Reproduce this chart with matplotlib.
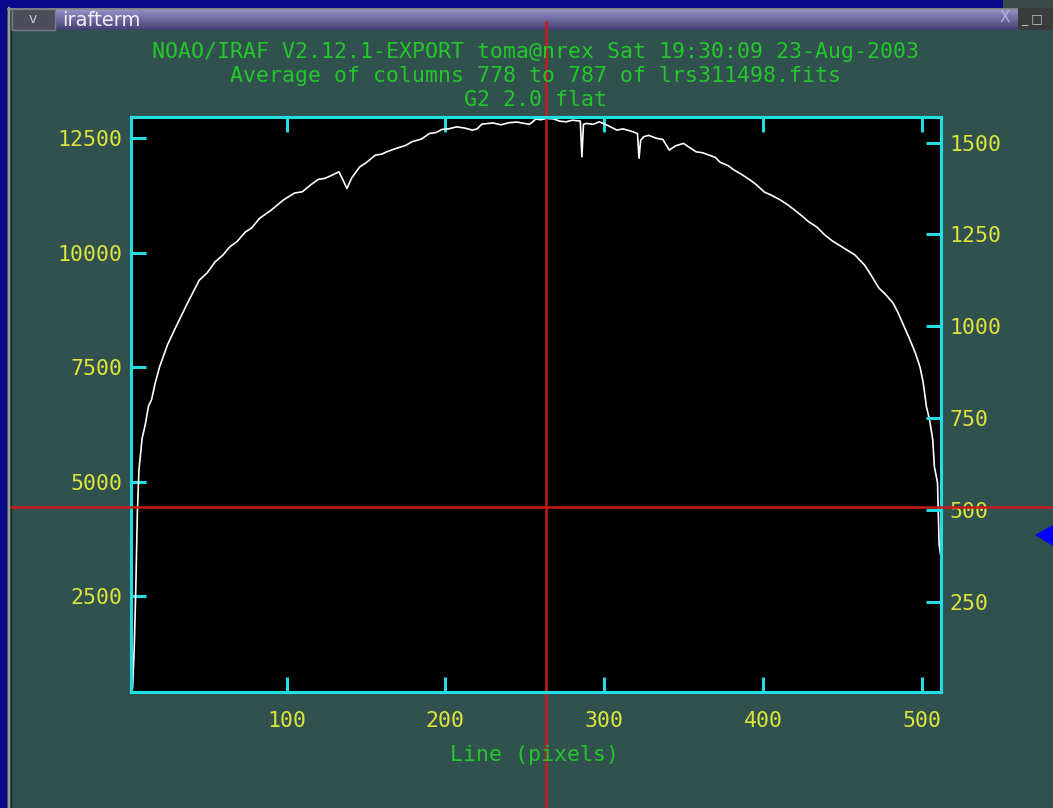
import matplotlib
matplotlib.use("Agg")
import matplotlib.pyplot as plt
import numpy as np
from matplotlib.patches import Rectangle, Polygon
from matplotlib.lines import Line2D

# ---------------- data ----------------
line_px = [2, 3, 4, 5, 6, 7, 8, 9, 11, 13, 15, 17, 20, 25, 30, 38, 45, 50, 55, 60,
           64, 69, 74, 78, 83, 90, 98, 105, 110, 115, 120, 124, 128, 133, 136, 138,
           141, 146, 150, 156, 160, 163, 169, 175, 179, 185, 190, 194, 198, 202, 207,
           212, 217, 220, 223, 230, 235, 240, 245, 249, 253, 257, 260, 264, 268, 272,
           276, 280, 284, 285, 286, 287, 289, 293, 297, 302, 308, 312, 318, 321, 322,
           323, 325, 328, 333, 337, 341, 345, 350, 354, 358, 362, 366, 370, 373, 378,
           382, 386, 392, 396, 401, 405, 411, 415, 420, 425, 429, 434, 439, 444, 448,
           452, 458, 461, 464, 468, 473, 477, 482, 485, 489, 492, 496, 499, 501, 503,
           505, 507, 508, 510, 511, 512]
counts = [440, 500, 1340, 2650, 4300, 5260, 5600, 5950, 6250, 6650, 6800, 7120, 7510,
          7990, 8360, 8930, 9400, 9560, 9800, 9950, 10120, 10250, 10450, 10540, 10750,
          10920, 11150, 11300, 11330, 11475, 11600, 11620, 11680, 11765, 11550, 11400,
          11630, 11870, 11960, 12130, 12150, 12200, 12275, 12340, 12420, 12480, 12600,
          12620, 12690, 12700, 12745, 12720, 12675, 12700, 12805, 12830, 12790, 12835,
          12850, 12825, 12800, 12915, 12900, 12930, 12920, 12870, 12855, 12890, 12875,
          12870, 12090, 12800, 12820, 12800, 12855, 12780, 12675, 12700, 12640, 12600,
          12060, 12450, 12530, 12560, 12495, 12470, 12240, 12330, 12385, 12290, 12200,
          12180, 12130, 12080, 11975, 11900, 11800, 11720, 11585, 11480, 11320, 11260,
          11150, 11060, 10930, 10790, 10670, 10560, 10385, 10250, 10165, 10080, 9950,
          9840, 9730, 9520, 9230, 9100, 8900, 8700, 8385, 8150, 7815, 7500, 7160, 6640,
          6350, 5915, 5335, 4980, 3630, 3400]

x_ticks = [100, 200, 300, 400, 500]
y_ticks_left = [2500, 5000, 7500, 10000, 12500]
y_ticks_right = [250, 500, 750, 1000, 1250, 1500]
x_limits = (2, 512)
y_limits_left = (415, 12960)
y_limits_right = (4, 1570)
title_lines = ["NOAO/IRAF V2.12.1-EXPORT toma@nrex Sat 19:30:09 23-Aug-2003",
               "Average of columns 778 to 787 of lrs311498.fits",
               "G2 2.0 flat"]
x_label = "Line (pixels)"
window_title = "irafterm"
cursor_x, cursor_y = 263.4, 4456

# ---------------- style ----------------
W, H = 1053, 808
BG = "#31514f"
CYAN = "#24dde2"
YELLOW = "#dde43c"
GREEN = "#22c82a"
RED = "#c81a1a"
MONO = "DejaVu Sans Mono"


def fx(px):
    return px / W


def fy(py):
    return 1 - py / H


fig = plt.figure(figsize=(W / 100, H / 100), dpi=100, facecolor=BG)

# window frame decorations
fig.patches.append(Rectangle((0, 0), fx(7), 1, transform=fig.transFigure,
                             facecolor="#08088c", edgecolor="none", zorder=0))
fig.patches.append(Rectangle((0, fy(8)), fx(1003), 8 / H, transform=fig.transFigure,
                             facecolor="#08088c", edgecolor="none", zorder=0))
fig.patches.append(Rectangle((fx(1003), fy(8)), fx(50), 8 / H, transform=fig.transFigure,
                             facecolor="#3a4a48", edgecolor="none", zorder=0))
fig.add_artist(Line2D([fx(8.5), fx(8.5)], [0, fy(8)], transform=fig.transFigure,
                      color="#9a9a9a", lw=1.6, zorder=1))
fig.add_artist(Line2D([fx(11), fx(11)], [0, fy(30)], transform=fig.transFigure,
                      color="#1a2a28", lw=1.0, zorder=1))
fig.add_artist(Line2D([fx(8), fx(1018)], [fy(9), fy(9)], transform=fig.transFigure,
                      color="#8a8a8a", lw=1.2, zorder=1))

# title bar gradient
tb = fig.add_axes([fx(55), fy(30), fx(1018 - 55), 21 / H])
grad = np.linspace(0, 1, 40).reshape(-1, 1)
top_c = np.array([0.60, 0.57, 0.80])
bot_c = np.array([0.27, 0.25, 0.45])
img = top_c * (1 - grad[..., None]) + bot_c * grad[..., None]
img = np.repeat(img, 2, axis=1)
tb.imshow(img, aspect="auto", extent=(0, 1, 0, 1))
tb.set_axis_off()
fig.patches.append(Rectangle((fx(12), fy(30)), fx(43), 21 / H, transform=fig.transFigure,
                             facecolor="#4c4c5a", edgecolor="#7a7a88", lw=1, zorder=2))
fig.text(fx(33), fy(19), "v", color="#c8c8d4", fontsize=10, ha="center", va="center",
         family="DejaVu Sans", zorder=3)
fig.text(fx(62), fy(20), window_title, color="#f0f0f6", fontsize=14, ha="left",
         va="center", family="DejaVu Sans", zorder=3)
fig.text(fx(1005), fy(18), "X", color="#b4b2e4", fontsize=11, ha="center",
         va="center", family="DejaVu Sans", zorder=3)
fig.patches.append(Rectangle((fx(1018), fy(30)), fx(35), 22 / H, transform=fig.transFigure,
                             facecolor="#3a3c3c", edgecolor="none", zorder=2))
fig.text(fx(1032), fy(19), "_ □", color="#c0c0c0", fontsize=9, ha="center",
         va="center", family="DejaVu Sans", zorder=3)

# blue pointer triangle on the right
fig.patches.append(Polygon([[fx(1035), fy(535)], [fx(1053), fy(525)], [fx(1053), fy(546)]],
                           closed=True, transform=fig.transFigure,
                           facecolor="#0000ff", edgecolor="none", zorder=2))

# ---------------- main plot ----------------
left, right, top, bottom = 131, 940.7, 117, 692
ax = fig.add_axes([fx(left), fy(bottom), fx(right - left), (bottom - top) / H])
ax.set_facecolor("black")
ax.plot(line_px, counts, color="white", lw=1.2, zorder=3)
ax.set_xlim(*x_limits)
ax.set_ylim(*y_limits_left)
ax.set_xticks(x_ticks)
ax.set_yticks(y_ticks_left)
for s in ax.spines.values():
    s.set_color(CYAN)
    s.set_linewidth(2.2)
ax.tick_params(axis="x", which="both", direction="in", length=11, width=2.2,
               color=CYAN, top=True, bottom=True, labelcolor=YELLOW,
               labelsize=15.5, pad=14)
ax.tick_params(axis="y", which="both", direction="in", length=11, width=2.2,
               color=CYAN, left=True, right=False, labelcolor=YELLOW,
               labelsize=15.5, pad=6)
for lab in ax.get_xticklabels() + ax.get_yticklabels():
    lab.set_family(MONO)

ax2 = ax.twinx()
ax2.set_ylim(*y_limits_right)
ax2.set_yticks(y_ticks_right)
for s in ax2.spines.values():
    s.set_color(CYAN)
    s.set_linewidth(2.2)
ax2.tick_params(axis="y", direction="in", length=11, width=2.2, color=CYAN,
                labelcolor=YELLOW, labelsize=15.5, pad=6)
for lab in ax2.get_yticklabels():
    lab.set_family(MONO)

# titles and axis label
cx = fx((left + right) / 2)
for i, t in enumerate(title_lines):
    fig.text(cx, fy(52 + 24 * i), t, color=GREEN, fontsize=15.5, family=MONO,
             ha="center", va="center", zorder=4)
fig.text(fx(535), fy(755), x_label, color=GREEN, fontsize=15.5, family=MONO,
         ha="center", va="center", zorder=4)

# red cursor crosshair
ax.axvline(cursor_x, ymin=(bottom - H) / (bottom - top), ymax=(bottom - 22) / (bottom - top),
           color=RED, lw=1.8, clip_on=False, zorder=10)
yfrac = (cursor_y - y_limits_left[0]) / (y_limits_left[1] - y_limits_left[0])
fig.add_artist(Line2D([fx(11), 1], [fy(bottom) + yfrac * (bottom - top) / H] * 2,
                      transform=fig.transFigure, color=RED, lw=1.8, zorder=10))

fig.savefig("out.png", dpi=100, facecolor=BG)
